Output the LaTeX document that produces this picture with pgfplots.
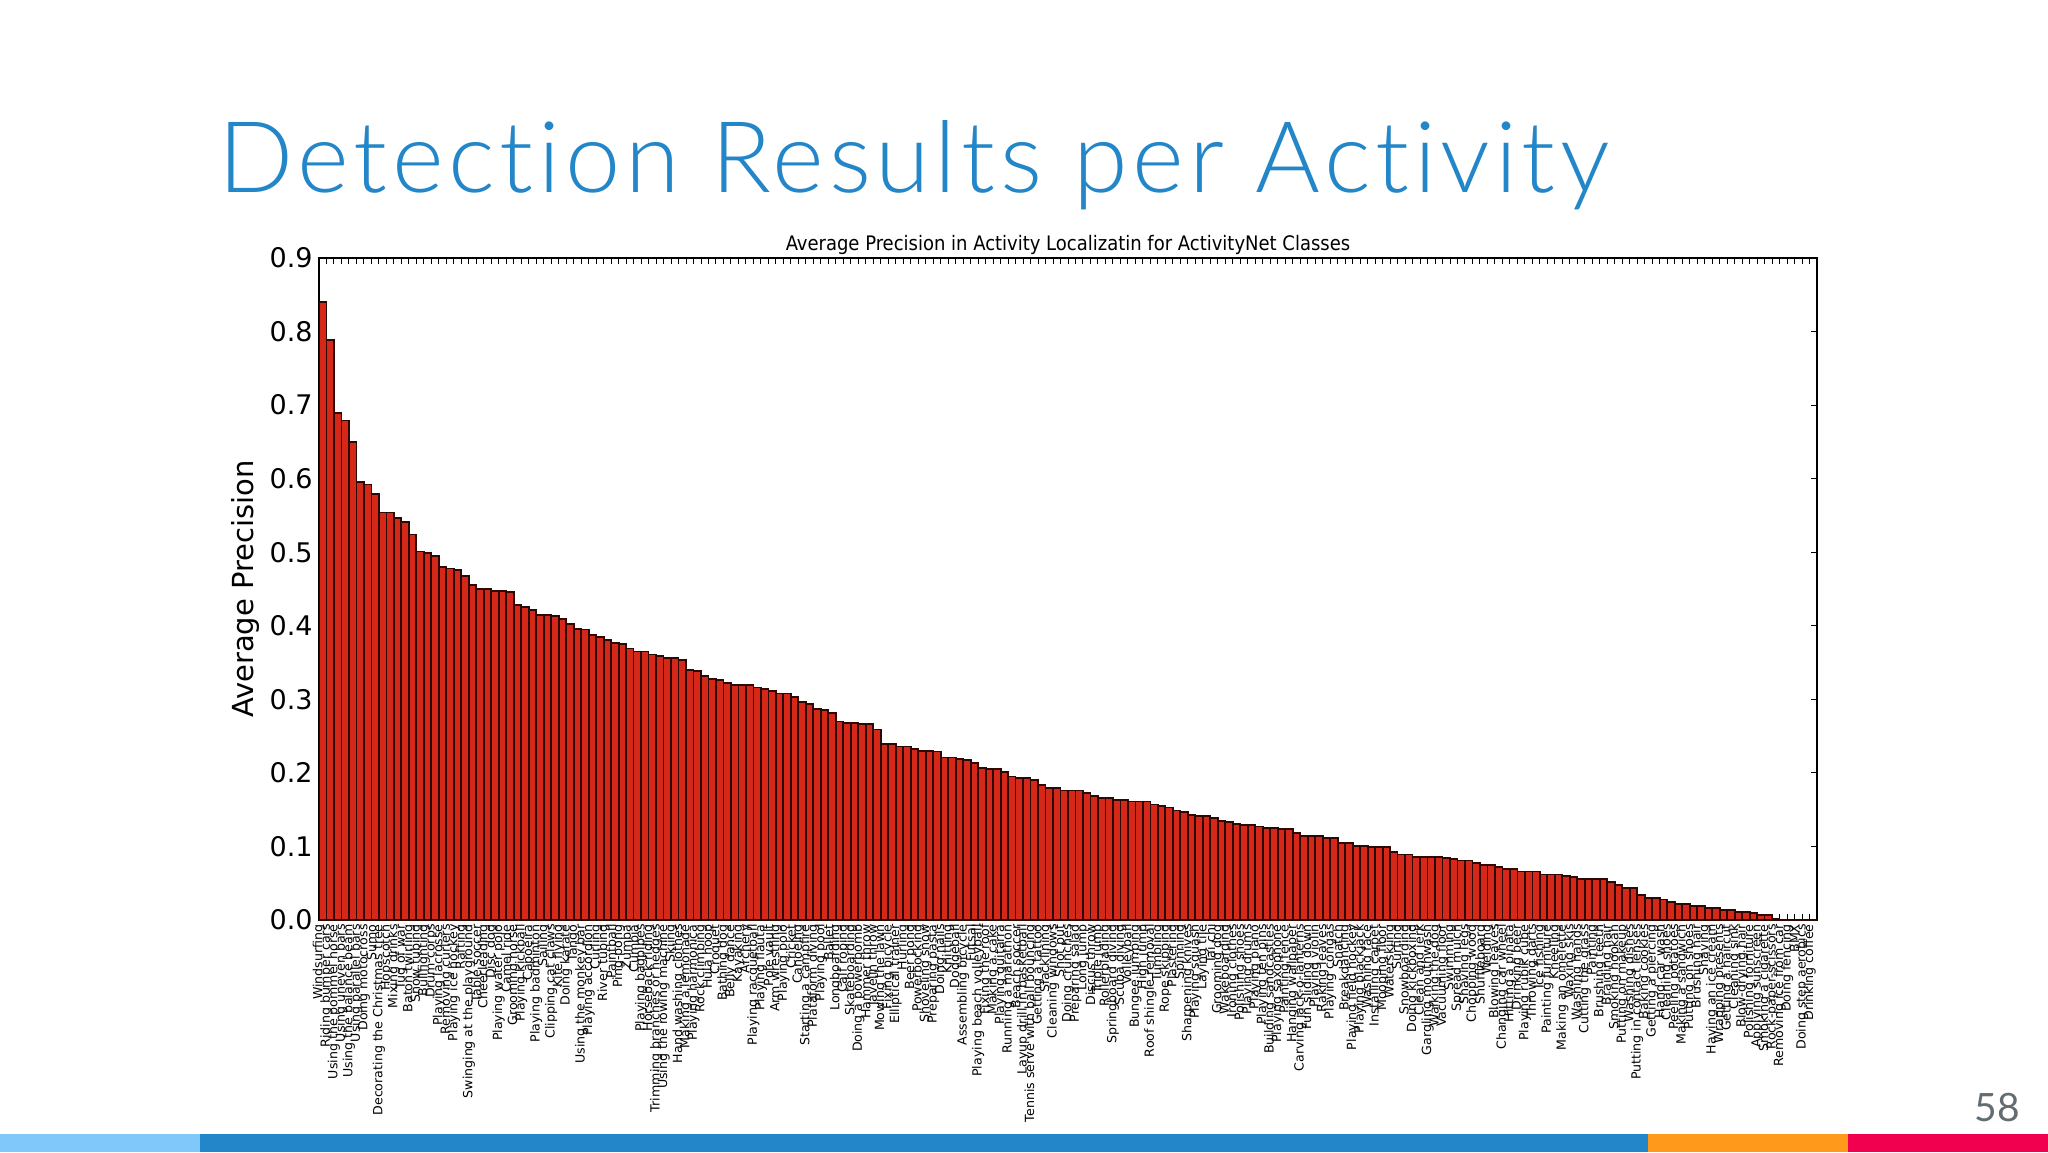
\documentclass[border=0pt]{standalone}
\usepackage{fontspec}
\setmainfont{DejaVu Sans}
\newfontfamily\titlefont{Lato Light}[Ligatures={NoCommon,NoContextual}, LetterSpace=4.7]
\newfontfamily\numfont{Lato}
\newfontfamily\condfont{DejaVu Sans Condensed}
\usepackage{pgfplots}
\usepackage{pgfplotstable}
\pgfplotsset{compat=1.18}

\definecolor{slideblue}{RGB}{35,134,200}
\definecolor{lightblue}{RGB}{128,200,250}
\definecolor{slideorange}{RGB}{255,153,28}
\definecolor{slidered}{RGB}{242,0,80}
\definecolor{pagegray}{RGB}{100,108,115}
\definecolor{barred}{RGB}{214,40,24}
\definecolor{baredge}{RGB}{45,8,5}

% average precision per class, sorted
\pgfplotstableread{
ap
0.840
0.788
0.689
0.679
0.650
0.596
0.592
0.579
0.554
0.554
0.547
0.541
0.524
0.501
0.499
0.495
0.480
0.478
0.476
0.468
0.455
0.450
0.450
0.447
0.447
0.446
0.428
0.425
0.421
0.415
0.415
0.413
0.409
0.402
0.396
0.395
0.387
0.385
0.381
0.377
0.375
0.369
0.365
0.365
0.361
0.359
0.356
0.356
0.354
0.340
0.338
0.332
0.328
0.326
0.322
0.319
0.319
0.319
0.316
0.314
0.311
0.308
0.308
0.303
0.296
0.294
0.287
0.286
0.281
0.270
0.268
0.268
0.266
0.266
0.259
0.239
0.239
0.236
0.236
0.233
0.230
0.230
0.229
0.221
0.221
0.219
0.217
0.213
0.207
0.205
0.205
0.201
0.195
0.193
0.193
0.190
0.184
0.180
0.180
0.176
0.176
0.176
0.173
0.169
0.166
0.166
0.163
0.163
0.161
0.161
0.161
0.157
0.155
0.153
0.149
0.147
0.143
0.141
0.141
0.139
0.135
0.133
0.131
0.129
0.129
0.127
0.125
0.125
0.124
0.124
0.118
0.114
0.114
0.114
0.111
0.111
0.105
0.105
0.101
0.101
0.099
0.099
0.099
0.093
0.089
0.089
0.086
0.086
0.086
0.086
0.084
0.083
0.081
0.081
0.077
0.075
0.075
0.072
0.069
0.069
0.066
0.066
0.066
0.062
0.062
0.062
0.060
0.058
0.056
0.056
0.056
0.056
0.052
0.048
0.044
0.044
0.034
0.030
0.030
0.028
0.025
0.022
0.022
0.019
0.019
0.016
0.016
0.014
0.014
0.011
0.011
0.009
0.007
0.007
0.001
0
0
0
0
0
}\apdata

\begin{document}
\begin{tikzpicture}[x=1pt,y=1pt]
\path[use as bounding box, fill=white] (0,0) rectangle (1024,576);

\begin{axis}[
    at={(159.5pt,116pt)}, anchor=south west,
    scale only axis,
    width=749pt, height=331pt,
    xmin=0, xmax=200, ymin=0, ymax=0.9,
    xtick={0,...,199},
    xticklabels={Windsurfing,Riding bumper cars,Using the pommel horse,Using uneven bars,Using the balance beam,Using parallel bars,Doing motocross,Sumo,Decorating the Christmas tree,Hopscotch,Mixing drinks,Tug of war,Baton twirling,Snow tubing,Bullfighting,Drum corps,Playing lacrosse,Removing curlers,Playing ice hockey,Rafting,Swinging at the playground,Table soccer,Cheerleading,Disc dog,Playing water polo,Camel ride,Grooming horse,Playing kickball,Capoeira,Playing badminton,Sailing,Clipping cat claws,Kite flying,Doing karate,Tango,Using the monkey bar,Playing accordion,Curling,River tubing,Paintball,Ping-pong,Zumba,Cumbia,Playing bagpipes,Horseback riding,Trimming branches or hedges,Using the rowing machine,Skiing,Hand washing clothes,Making a lemonade,Playing harmonica,Rock climbing,Hula hoop,Croquet,Bathing dog,Belly dance,Kayaking,Archery,Playing racquetball,Playing flauta,Pole vault,Arm wrestling,Playing polo,Cricket,Canoeing,Starting a campfire,Plataform diving,Playing pool,Ballet,Longboarding,Calf roping,Skateboarding,Doing a powerbomb,Hammer throw,Javelin throw,Mowing the lawn,Fixing bicycle,Elliptical trainer,Hurling,Beer pong,Powerbocking,Shoveling snow,Preparing pasta,Doing nails,Knitting,Dodgeball,Assembling bicycle,Futsal,Playing beach volleyball,Fixing the roof,Making a cake,Playing guitarra,Running a marathon,Beach soccer,Layup drill in basketball,Tennis serve with ball bouncing,Getting a tattoo,Slacklining,Cleaning windows,Shot put,Doing crunches,Preparing salad,Long jump,Discus throw,Triple jump,Rollerblading,Springboard diving,Scuba diving,Volleyball,Bungee jumping,High jump,Roof shingle removal,Tumbling,Rope skipping,Plastering,Spinning,Sharpening knives,Playing squash,Laying tile,Tai chi,Grooming dog,Wakeboarding,Ironing clothes,Polishing shoes,Playing drums,Playing piano,Playing ten pins,Building sandcastles,Playing saxophone,Painting fence,Hanging wallpaper,Carving jack-o-lanterns,Fun sliding down,Playing violin,Raking leaves,Playing congas,Snatch,Breakdancing,Playing field hockey,Playing blackjack,Washing face,Installing carpet,Mooping floor,Waterskiing,Surfing,Snowboarding,Doing kickboxing,Clean and jerk,Gargling mouthwash,Walking the dog,Vacuuming floor,Swimming,Spread mulch,Shaving legs,Chopping wood,Shuffleboard,Welding,Blowing leaves,Changing car wheel,Hitting a pinata,Drinking beer,Playing rubik cube,Throwing darts,Ice fishing,Painting furniture,Kneeling,Making an omelette,Waxing skis,Washing hands,Cutting the grass,Painting,Brushing teeth,Braiding hair,Smoking hookah,Putting on makeup,Washing dishes,Putting in contact lenses,Baking cookies,Getting a piercing,Hand car wash,Cleaning shoes,Peeling potatoes,Making a sandwich,Putting on shoes,Brushing hair,Shaving,Having an ice cream,Wrapping presents,Getting a haircut,Cleaning sink,Blow-drying hair,Polishing forniture,Applying sunscreen,Smoking a cigarette,Rock-paper-scissors,Removing ice from car,Doing fencing,BMX,Doing step aerobics,Drinking coffee},
    xticklabel style={rotate=90, anchor=east, inner sep=2pt,
        font=\fontsize{6.3}{6.8}\selectfont},
    ytick={0,0.1,...,0.9},
    yticklabel style={font=\fontsize{13.5}{16}\selectfont, inner sep=0pt, xshift=-3pt,
        /pgf/number format/.cd, fixed, fixed zerofill, precision=1, assume math mode=true},
    tick align=inside,
    tick pos=both,
    major tick length=3pt,
    every tick/.style={black, line width=0.5pt},
    axis line style={black, line width=0.8pt},
    every axis title shift=0pt,
    title={Average Precision in Activity Localizatin for ActivityNet Classes},
    title style={font=\condfont\fontsize{10}{11}\selectfont, at={(0.5,1)},
        anchor=base, yshift=4pt, inner sep=0pt},
    ylabel={Average Precision},
    ylabel style={font=\fontsize{14.5}{17}\selectfont,
        at={(axis description cs:-0.0494,0.5)}, anchor=center},
]
\addplot[ybar, bar width=1, fill=barred, draw=baredge, line width=0.9pt]
    table[x expr=\coordindex+0.5, y=ap] {\apdata};
\end{axis}

% slide decoration
\node[anchor=base west, inner sep=0pt, text=slideblue,
      font=\titlefont\fontsize{49.5}{55}\selectfont] at (109,479.5)
      {Detection Results per Activity};
\node[anchor=base east, inner sep=0pt, text=pagegray,
      font=\numfont\fontsize{19.5}{22}\selectfont] at (1010,15.5) {58};
\fill[lightblue] (0,0) rectangle (100,9);
\fill[slideblue] (100,0) rectangle (824,9);
\fill[slideorange] (824,0) rectangle (924,9);
\fill[slidered] (924,0) rectangle (1024,9);
\end{tikzpicture}
\end{document}
